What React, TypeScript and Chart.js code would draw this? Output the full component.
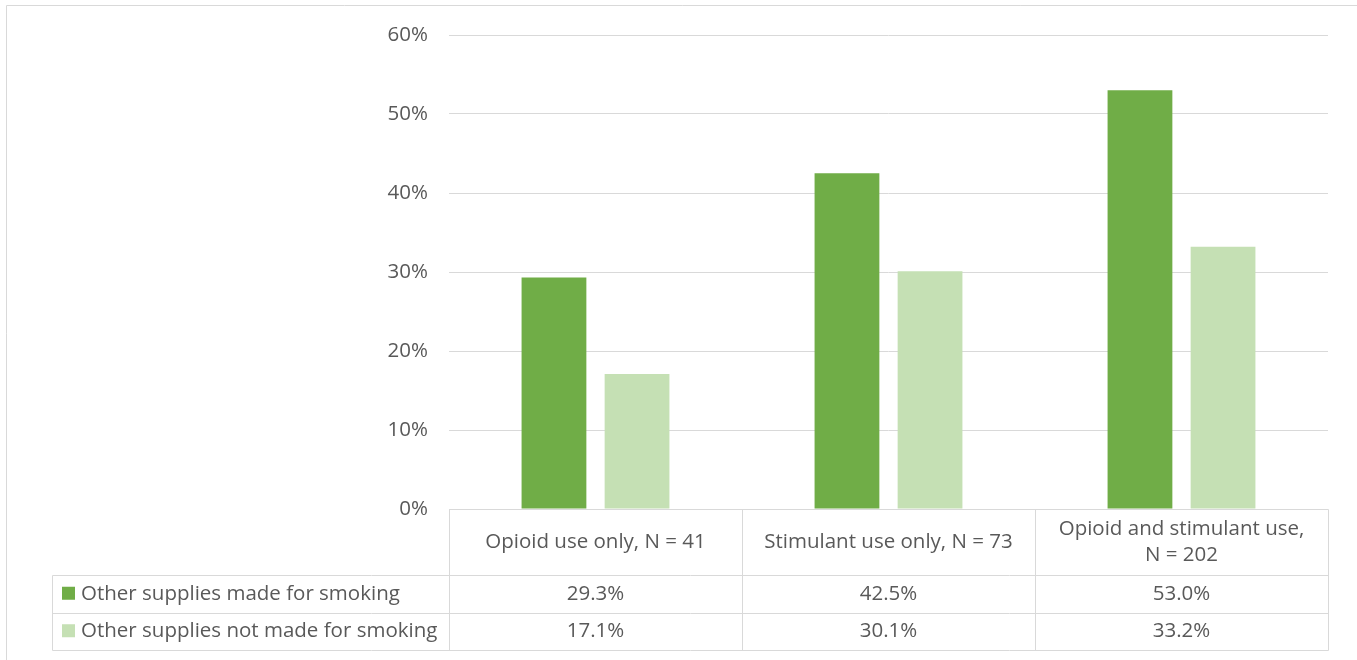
import React, { useEffect, useRef } from "react";
import { Chart, registerables } from "chart.js";

Chart.register(...registerables);

const categories: (string | string[])[] = [
  "Opioid use only, N = 41",
  "Stimulant use only, N = 73",
  ["Opioid and stimulant use,", "N = 202"],
];
const seriesNames = ["Other supplies made for smoking", "Other supplies not made for smoking"];
const madeForSmoking = [29.3, 42.5, 53.0];
const notMadeForSmoking = [17.1, 30.1, 33.2];
const seriesColors = ["#70ad47", "#c5e0b4"];
const yMin = 0;
const yMax = 60;
const yStep = 10;

const FONT = "'Open Sans', sans-serif";
const FSIZE = 20.5;
const TEXT = "#595959";
const LINE = "#d9d9d9";

const W = 1357;
const H = 660;

const tablePlugin = {
  id: "dataTable",
  afterDraw(chart: any) {
    const ctx: CanvasRenderingContext2D = chart.ctx;
    const xs = chart.scales.x;
    const area = chart.chartArea;
    const n = categories.length;
    const left = xs.left;
    const right = xs.right;
    const colW = (right - left) / n;
    const top = area.bottom;
    const headerH = 66;
    const rowH = 37.5;
    const legendLeft = 52;
    const r1 = top + headerH;
    const r2 = r1 + rowH;
    const r3 = r2 + rowH;
    const s = (v: number) => Math.round(v) + 0.5;

    ctx.save();
    ctx.strokeStyle = LINE;
    ctx.lineWidth = 1;
    ctx.beginPath();
    ctx.moveTo(s(6), s(5));
    ctx.lineTo(W + 5, s(5));
    ctx.moveTo(s(6), s(5));
    ctx.lineTo(s(6), H + 5);
    ctx.moveTo(s(left), s(top));
    ctx.lineTo(s(right), s(top));
    [r1, r2, r3].forEach((y) => {
      ctx.moveTo(s(legendLeft), s(y));
      ctx.lineTo(s(right), s(y));
    });
    ctx.moveTo(s(legendLeft), s(r1));
    ctx.lineTo(s(legendLeft), s(r3));
    for (let i = 0; i <= n; i++) {
      const x = left + i * colW;
      ctx.moveTo(s(x), s(top));
      ctx.lineTo(s(x), s(r3));
    }
    ctx.stroke();

    ctx.fillStyle = TEXT;
    ctx.font = `${FSIZE}px ${FONT}`;
    ctx.textAlign = "center";
    ctx.textBaseline = "middle";
    categories.forEach((c, i) => {
      const cx = xs.getPixelForValue(i);
      const lines = Array.isArray(c) ? c : [c];
      const lh = 26;
      const cy = top + headerH / 2 - ((lines.length - 1) * lh) / 2;
      lines.forEach((l, j) => ctx.fillText(l, cx, cy + j * lh));
    });
    const rows = [madeForSmoking, notMadeForSmoking];
    rows.forEach((vals, ri) => {
      const cy = r1 + rowH * ri + rowH / 2;
      vals.forEach((v, i) => {
        ctx.fillStyle = TEXT;
        ctx.textAlign = "center";
        ctx.fillText(v.toFixed(1) + "%", xs.getPixelForValue(i), cy);
      });
      ctx.fillStyle = seriesColors[ri];
      ctx.fillRect(legendLeft + 10, cy - 7, 13, 13);
      ctx.fillStyle = TEXT;
      ctx.textAlign = "left";
      ctx.fillText(seriesNames[ri], legendLeft + 29, cy);
    });
    ctx.restore();
  },
};

export default function App() {
  const ref = useRef<HTMLCanvasElement>(null);
  useEffect(() => {
    if (!ref.current) return;
    const chart = new Chart(ref.current, {
      type: "bar",
      data: {
        labels: categories as any,
        datasets: [
          {
            label: seriesNames[0],
            data: madeForSmoking,
            backgroundColor: seriesColors[0],
            categoryPercentage: 0.567,
            barPercentage: 0.78,
          },
          {
            label: seriesNames[1],
            data: notMadeForSmoking,
            backgroundColor: seriesColors[1],
            categoryPercentage: 0.567,
            barPercentage: 0.78,
          },
        ],
      },
      options: {
        responsive: false,
        animation: false,
        layout: { padding: { top: 35, right: 29, bottom: H - 509, left: 0 } },
        plugins: { legend: { display: false }, tooltip: { enabled: false } },
        scales: {
          x: {
            grid: { display: false },
            border: { display: false },
            ticks: { display: false },
            afterFit: (sc: any) => {
              sc.height = 0;
            },
          },
          y: {
            min: yMin,
            max: yMax,
            grid: { color: LINE, lineWidth: 1, drawTicks: false },
            border: { display: false },
            ticks: {
              stepSize: yStep,
              padding: 21,
              color: TEXT,
              font: { family: FONT, size: FSIZE },
              callback: (v: any) => v + "%",
            },
            afterFit: (sc: any) => {
              sc.width = 449;
            },
          },
        },
      },
      plugins: [tablePlugin],
    });
    return () => chart.destroy();
  }, []);
  return (
    <div style={{ position: "fixed", left: 0, top: 0, width: W, height: H, background: "#fff" }}>
      <canvas ref={ref} width={W} height={H} style={{ display: "block" }} />
    </div>
  );
}
